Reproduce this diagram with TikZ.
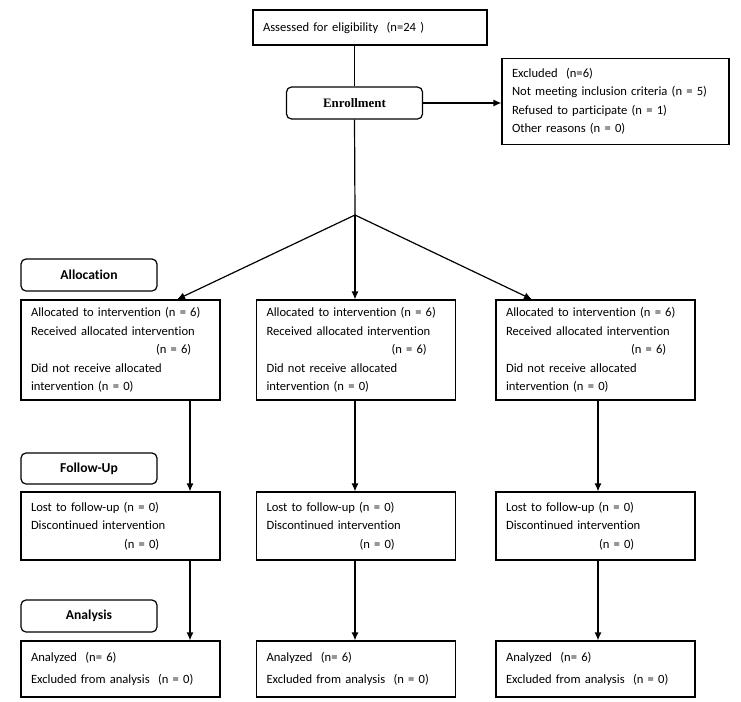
\documentclass[tikz,border=0pt]{standalone}
\usepackage{fontspec}
\setmainfont{Carlito}[Ligatures=NoCommon]
\newfontfamily\timesfont{Liberation Serif}
\usetikzlibrary{arrows.meta}

\begin{document}
\begin{tikzpicture}[x=1pt,y=-1pt,line width=1.2pt,
  box/.style={draw,rectangle,align=left,inner xsep=10pt,inner ysep=0pt,
    font=\fontsize{12.6}{18.5}\selectfont},
  col/.style={box,minimum width=199pt,text width=179pt},
  phase/.style={draw,rectangle,rounded corners=5pt,minimum width=136pt,
    minimum height=32pt,font=\fontsize{13.6}{16}\selectfont\bfseries},
  arr/.style={-{Latex[length=8pt,width=7pt]}}]
\useasboundingbox (0,0) rectangle (741,701);
\path (370,27.5) node[box,minimum width=234pt,minimum height=35pt,text width=214pt](Assessed) {Assessed for eligibility~ (n=24\ )}
(354.5,103) node[phase,font=\fontsize{12.9}{16}\selectfont\timesfont\bfseries](Enrollment) {Enrollment}
(615.5,101.5) node[box,minimum width=227pt,minimum height=86pt,text width=207pt](Excluded) {Excluded~ (n=6)\\Not meeting inclusion criteria (n = 5)\\Refused to participate (n = 1)\\Other reasons (n = 0)}
(89,275) node[phase](Allocation) {Allocation}
(89,468.5) node[phase,minimum height=31pt](FollowUp) {Follow-Up}
(89,616) node[phase](Analysis) {Analysis}
;
\coordinate (split) at (355,215);

% three arms
\foreach \i/\x in {1/120.5,2/356,3/595.5}{
\path (\x,350) node[col,minimum height=100pt](alloc_\i) {Allocated to intervention (n = 6)\\Received allocated intervention\\\hspace*{125pt}(n = 6)\\Did not receive allocated\\intervention (n = 0)}
(\x,526) node[col,minimum height=68pt](follow_\i) {Lost to follow-up (n = 0)\\Discontinued intervention\\\hspace*{93pt}(n = 0)}
(\x,669) node[col,minimum height=56pt,font=\fontsize{12.6}{22}\selectfont](anal_\i) {Analyzed~ (n= 6)\\Excluded from analysis~ (n = 0)};
}

\draw (Enrollment.north |- Assessed.south) -- (Enrollment.north);
\draw[arr] (Enrollment.east) -- (Excluded.west |- Enrollment.east);
\draw (Enrollment.south) -- (split);
\draw[arr] (split) -- ([xshift=56.5pt]alloc_1.north);
\draw[arr] (split) -- (split |- alloc_2.north);
\draw[arr] (split) -- ([xshift=-63.5pt]alloc_3.north);

\draw[arr] ([xshift=69.5pt]alloc_1.south) -- ([xshift=69.5pt]follow_1.north);
\draw[arr] ([xshift=69.5pt]follow_1.south) -- ([xshift=69.5pt]anal_1.north);
\draw[arr] ([xshift=-1pt]alloc_2.south) -- ([xshift=-1pt]follow_2.north);
\draw[arr] ([xshift=-1pt]follow_2.south) -- ([xshift=-1pt]anal_2.north);
\draw[arr] ([xshift=2.5pt]alloc_3.south) -- ([xshift=2.5pt]follow_3.north);
\draw[arr] ([xshift=2.5pt]follow_3.south) -- ([xshift=2.5pt]anal_3.north);

\end{tikzpicture}
\end{document}
